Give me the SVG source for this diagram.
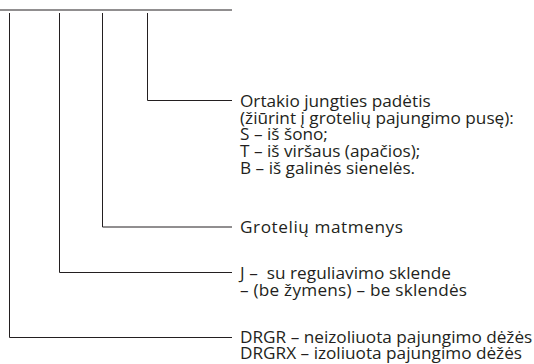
<svg xmlns="http://www.w3.org/2000/svg" width="534" height="364" viewBox="0 0 534 364">
<style>
.c{fill:none;stroke:#231f20;stroke-width:1}
.t{font-family:"Open Sans","Liberation Sans",sans-serif;font-size:17.2px;fill:#231f20}
</style>
<rect width="534" height="364" fill="#fff"/>
<g id="connectors">
<path class="c" d="M0 10H232"/>
<path class="c" d="M147.5 13V100.5H232"/>
<path class="c" d="M102.5 13V227H232"/>
<path class="c" d="M59.5 13V272.5H232"/>
<path class="c" d="M9.5 13V337.5H232"/>
</g>
<g id="node-position">
<text class="t" x="240" y="106.8">Ortakio jungties padėtis</text>
<text class="t" x="240" y="123.5">(žiūrint į grotelių pajungimo pusę):</text>
<text class="t" x="240" y="140.2">S – iš šono;</text>
<text class="t" x="240" y="156.9">T – iš viršaus (apačios);</text>
<text class="t" x="240" y="173.6">B – iš galinės sienelės.</text>
</g>
<g id="node-size">
<text class="t" x="240" y="233.3" textLength="163">Grotelių matmenys</text>
</g>
<g id="node-damper">
<text class="t" x="240" y="278.5" textLength="211">J –&#160; su reguliavimo sklende</text>
<text class="t" x="240" y="295.5" textLength="227">– (be žymens) – be sklendės</text>
</g>
<g id="node-type">
<text class="t" x="240" y="342.5">DRGR – neizoliuota pajungimo dėžės</text>
<text class="t" x="240" y="359">DRGRX – izoliuota pajungimo dėžės</text>
</g>
</svg>
